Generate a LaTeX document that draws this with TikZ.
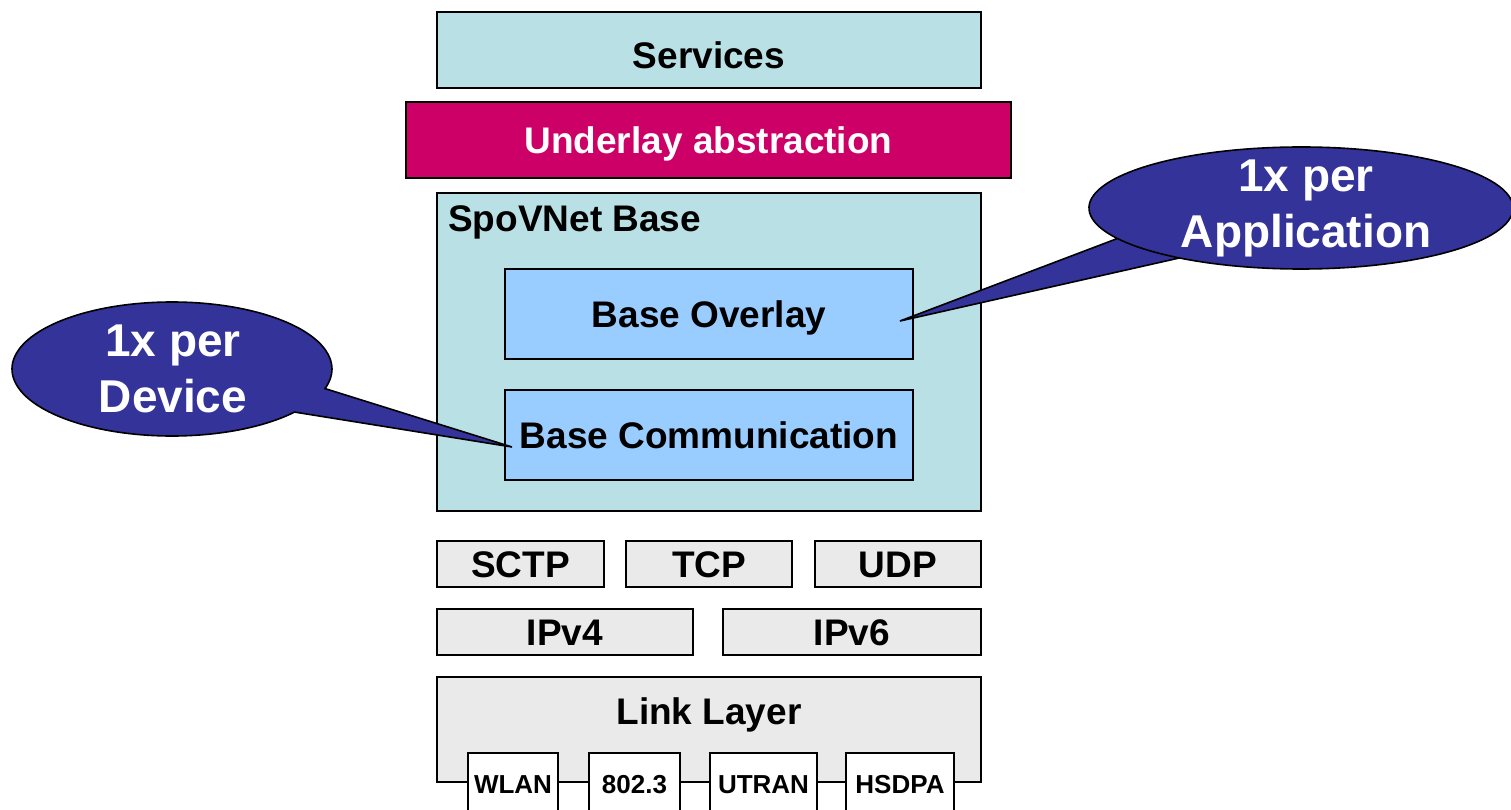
\documentclass[tikz,border=0pt]{standalone}
\usepackage{fontspec}
\setmainfont{Liberation Sans}
\definecolor{tealbox}{RGB}{185,224,228}
\definecolor{magbox}{RGB}{204,0,102}
\definecolor{bluebox}{RGB}{153,204,255}
\definecolor{graybox}{RGB}{234,234,234}
\definecolor{callblue}{RGB}{51,51,153}
\newcommand\boxfont{\bfseries\fontsize{37}{44}\selectfont}
\newcommand\smallboxfont{\bfseries\fontsize{26}{30}\selectfont}
\newcommand\callfont{\bfseries\fontsize{46}{56}\selectfont}
\begin{document}
\begin{tikzpicture}[x=1pt,y=-1pt,
  layer/.style={draw=black, line width=1.6pt, inner sep=0pt, font=\boxfont, text height=26.5pt, text depth=0pt},
  sublayer/.style={draw=black, line width=1.6pt, inner sep=0pt, fill=white, font=\smallboxfont, text height=18.6pt, text depth=0pt},
  plain/.style={inner sep=0pt, font=\boxfont, text height=26.5pt, text depth=0pt},
  callout/.style={fill=callblue, draw=black, line width=1.6pt, line join=miter},
  calltext/.style={text=white, font=\callfont, align=center, inner sep=0pt}]
\useasboundingbox (0,0) rectangle (1511,810);
% upper layers
\node[layer, fill=tealbox, minimum width=544, minimum height=76] (services) at (709,50) {};
\node[plain] (servicesL) at (709,55.5) {Services};
\node[layer, fill=magbox, text=white, minimum width=605, minimum height=76] (underlay) at (708.5,140) {Underlay abstraction};
\node[layer, fill=tealbox, minimum width=544, minimum height=318] (base) at (709,352) {};
\node[plain, anchor=west] (baseL) at (448,218) {SpoVNet Base};
\node[layer, fill=bluebox, minimum width=408, minimum height=90] (overlay) at (709,314) {Base Overlay};
\node[layer, fill=bluebox, minimum width=408, minimum height=90] (comm) at (709,435) {Base Communication};
% transport
\node[layer, fill=graybox, minimum width=167, minimum height=46] (sctp) at (520.5,564) {SCTP};
\node[layer, fill=graybox, minimum width=166, minimum height=46] (tcp) at (709,564) {TCP};
\node[layer, fill=graybox, minimum width=166, minimum height=46] (udp) at (898,564) {UDP};
% network
\node[layer, fill=graybox, minimum width=256, minimum height=46] (ipv4) at (565,632) {IPv4};
\node[layer, fill=graybox, minimum width=258, minimum height=46] (ipv6) at (852,632) {IPv6};
% link layer
\node[layer, fill=graybox, minimum width=544, minimum height=105] (link) at (709,729.5) {};
\node[plain] (linkL) at (709,711) {Link Layer};
\node[sublayer, minimum width=90, minimum height=62] (wlan) at (513,784) {WLAN};
\node[sublayer, minimum width=91, minimum height=62] (eth) at (634.5,784) {802.3};
\node[sublayer, minimum width=107, minimum height=62] (utran) at (763.5,784) {UTRAN};
\node[sublayer, minimum width=108, minimum height=62] (hsdpa) at (900,784) {HSDPA};
% callouts
\coordinate (tipL) at (512,447);
\coordinate (tipR) at (900,321);
\path[callout] (172,369) ++(40:160 and 67) arc[start angle=40, end angle=377, x radius=160, y radius=67] -- (tipL) -- cycle;
\node[calltext] (devT) at (173,369) {1x per\\Device};
\path[callout] (1301,208) ++(125:212 and 61) arc[start angle=125, end angle=510, x radius=212, y radius=61] -- (tipR) -- cycle;
\node[calltext] (appT) at (1306,208) {1x per\\Application};
\end{tikzpicture}
\end{document}
